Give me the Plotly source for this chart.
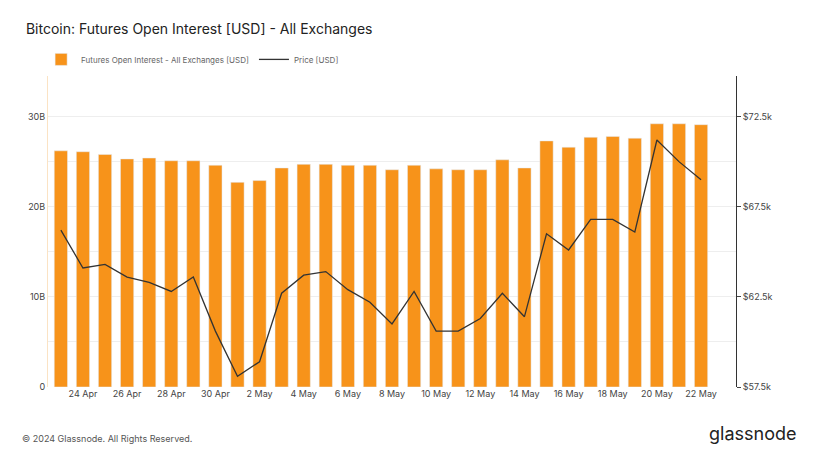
import pandas as pd
import plotly.graph_objects as go

dates = pd.date_range("2024-04-23", "2024-05-22", freq="D")
open_interest_b = [26.2, 26.1, 25.8, 25.3, 25.4, 25.1, 25.1, 24.6, 22.7, 22.9,
                   24.3, 24.7, 24.7, 24.6, 24.6, 24.1, 24.6, 24.2, 24.1, 24.1,
                   25.2, 24.3, 27.3, 26.6, 27.7, 27.8, 27.6, 29.2, 29.2, 29.1]
price_k = [66.2, 64.1, 64.3, 63.6, 63.3, 62.8, 63.6, 60.6, 58.1, 58.9,
           62.7, 63.7, 63.9, 62.9, 62.2, 61.0, 62.8, 60.6, 60.6, 61.3,
           62.7, 61.4, 66.0, 65.1, 66.8, 66.8, 66.1, 71.2, 70.0, 69.0]

left_ticks = [0, 5e9, 10e9, 15e9, 20e9, 25e9, 30e9, 35e9]
left_labels = ["0", "", "10B", "", "20B", "", "30B", ""]
right_ticks = [57500, 62500, 67500, 72500]
right_labels = ["$57.5k", "$62.5k", "$67.5k", "$72.5k"]

fig = go.Figure()
fig.add_trace(go.Bar(
    x=dates, y=[v * 1e9 for v in open_interest_b],
    name="Futures Open Interest - All Exchanges [USD]",
    marker_color="#f7931a", width=0.6 * 86400000,
))
fig.add_trace(go.Scatter(
    x=dates, y=[v * 1000 for v in price_k], name="Price [USD]",
    yaxis="y2", mode="lines", line=dict(color="#333333", width=1.3),
))

fig.update_layout(
    width=814, height=457, plot_bgcolor="white", paper_bgcolor="white",
    font=dict(family="Inter", size=9, color="#555555"),
    margin=dict(l=40, r=86, t=68, b=78),
    title=dict(text="Bitcoin: Futures Open Interest [USD] - All Exchanges",
               x=0.022, y=0.965, font=dict(size=14, color="#222222")),
    legend=dict(orientation="h", x=-0.01, y=1.1, xanchor="left",
                font=dict(size=8, color="#666666"), itemwidth=30),
    bargap=0.3,
    xaxis=dict(showgrid=False, tickformat="%-d %b", dtick=2 * 86400000,
               tick0="2024-04-24", range=["2024-04-22 10:00", "2024-05-23 14:00"],
               ticks="", tickfont=dict(size=9, color="#444444")),
    yaxis=dict(range=[0, 34.5e9], tickvals=left_ticks, ticktext=left_labels,
               gridcolor="#eeeeee", showline=True, linecolor="#fbe3c4",
               zeroline=False, tickfont=dict(size=9, color="#444444")),
    yaxis2=dict(overlaying="y", side="right", range=[57500, 74750],
                tickvals=right_ticks, ticktext=right_labels, showgrid=False,
                showline=True, linecolor="#333333", ticks="outside",
                ticklen=4, zeroline=False, tickfont=dict(size=9, color="#444444")),
    annotations=[
        dict(text="© 2024 Glassnode. All Rights Reserved.", xref="paper",
             yref="paper", x=-0.04, y=-0.19, xanchor="left", showarrow=False,
             font=dict(size=9, color="#555555")),
        dict(text="glassnode", xref="paper", yref="paper", x=1.09, y=-0.19,
             xanchor="right", showarrow=False,
             font=dict(size=18, color="#222222")),
    ],
)

fig.write_html("out.html")
